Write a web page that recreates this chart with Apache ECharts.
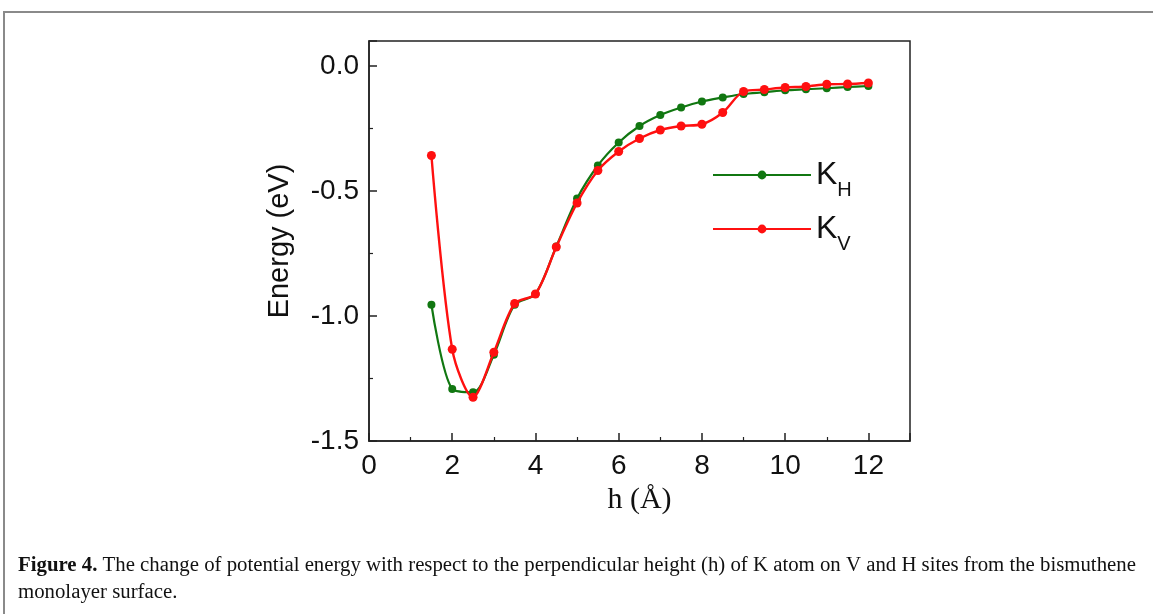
<!DOCTYPE html>
<html>
<head>
<meta charset="utf-8">
<script src="https://cdn.jsdelivr.net/npm/echarts@6/dist/echarts.min.js"></script>
<style>
html,body{margin:0;padding:0;background:#fff;}
#main{width:1153px;height:614px;}
</style>
</head>
<body>
<div id="main"></div>
<script>
// Data
var heights = [1.5, 2.0, 2.5, 3.0, 3.5, 4.0, 4.5, 5.0, 5.5, 6.0, 6.5, 7.0, 7.5, 8.0, 8.5, 9.0, 9.5, 10.0, 10.5, 11.0, 11.5, 12.0];
var energyKH = [-0.955, -1.292, -1.305, -1.155, -0.955, -0.912, -0.722, -0.530, -0.398, -0.306, -0.240, -0.196, -0.166, -0.142, -0.126, -0.112, -0.105, -0.097, -0.093, -0.089, -0.084, -0.080];
var energyKV = [-0.358, -1.133, -1.325, -1.145, -0.950, -0.912, -0.724, -0.548, -0.418, -0.342, -0.290, -0.256, -0.240, -0.233, -0.186, -0.102, -0.094, -0.086, -0.082, -0.073, -0.072, -0.068];
var seriesNames = ['K_H', 'K_V'];
var xTickLabels = ['0', '2', '4', '6', '8', '10', '12'];
var yTickLabels = ['-1.5', '-1.0', '-0.5', '0.0'];

function pairs(xs, ys) { return xs.map(function (x, i) { return [x, ys[i]]; }); }

var chart = echarts.init(document.getElementById('main'), null, {renderer: 'canvas'});
var sans = 'Liberation Sans, Arial, sans-serif';
var serif = 'Liberation Serif, serif';
var option = {
  animation: false,
  backgroundColor: '#fff',
  grid: {left: 369, top: 41, width: 541, height: 400, show: true, borderColor: '#222', borderWidth: 1.5, backgroundColor: 'transparent'},
  xAxis: {
    type: 'value', min: 0, max: 13, interval: 2,
    name: 'h (Å)', nameLocation: 'middle', nameGap: 44,
    nameTextStyle: {fontFamily: serif, fontSize: 30, color: '#111'},
    axisLine: {onZero: false, lineStyle: {color: '#222', width: 1.5}},
    axisTick: {inside: true, length: 8, lineStyle: {color: '#222', width: 1.5}},
    minorTick: {show: true, splitNumber: 2, length: 4, lineStyle: {color: '#222', width: 1.2}},
    splitLine: {show: false},
    axisLabel: {showMaxLabel: false, fontFamily: sans, fontSize: 28, color: '#111', margin: 11,
      formatter: function (v) { var s = String(v); return xTickLabels.indexOf(s) >= 0 ? s : ''; }}
  },
  yAxis: {
    type: 'value', min: -1.5, max: 0.1, interval: 0.5,
    name: 'Energy (eV)', nameLocation: 'middle', nameGap: 75, nameRotate: 90,
    nameTextStyle: {fontFamily: sans, fontSize: 29, color: '#111'},
    axisLine: {onZero: false, lineStyle: {color: '#222', width: 1.5}},
    axisTick: {inside: true, length: 8, lineStyle: {color: '#222', width: 1.5}},
    minorTick: {show: true, splitNumber: 2, length: 4, lineStyle: {color: '#222', width: 1.2}},
    splitLine: {show: false},
    axisLabel: {showMaxLabel: false, fontFamily: sans, fontSize: 28, color: '#111', margin: 10,
      formatter: function (v) { var s = v.toFixed(1); return yTickLabels.indexOf(s) >= 0 ? s : ''; }}
  },
  legend: {
    orient: 'vertical', left: 707, top: 145, itemWidth: 98, itemHeight: 11, itemGap: 4,
    data: seriesNames,
    formatter: function (n) { return n === 'K_H' ? '{k|K}{s|H}' : '{k|K}{s|V}'; },
    textStyle: {
      rich: {
        k: {fontFamily: sans, fontSize: 32, color: '#111', lineHeight: 40, padding: [0, 0, 0, 0]},
        s: {fontFamily: sans, fontSize: 20, color: '#111', lineHeight: 40, padding: [30, 0, 0, 0]}
      }
    }
  },
  series: [
    {name: seriesNames[0], type: 'line', smooth: 0.3, data: pairs(heights, energyKH),
     symbol: 'circle', symbolSize: 8, itemStyle: {color: '#117711'}, lineStyle: {color: '#117711', width: 2.2}, z: 2},
    {name: seriesNames[1], type: 'line', smooth: 0.3, data: pairs(heights, energyKV),
     symbol: 'circle', symbolSize: 9, itemStyle: {color: '#ff1010'}, lineStyle: {color: '#ff1010', width: 2.4}, z: 3}
  ],
  graphic: [
    {type: 'rect', shape: {x: 4, y: 12, width: 1200, height: 700}, style: {fill: 'none', stroke: '#8a8a8a', lineWidth: 2}, silent: true},
    {type: 'text', left: 18, top: 555, style: {
      text: '{b|Figure 4.} The change of potential energy with respect to the perpendicular height (h) of K atom on V and H sites from the bismuthene',
      fontFamily: serif, fontSize: 20.8, fill: '#111',
      rich: {b: {fontFamily: serif, fontSize: 20.8, fontWeight: 'bold', fill: '#111'}}
    }},
    {type: 'text', left: 18, top: 582, style: {
      text: 'monolayer surface.', fontFamily: serif, fontSize: 20.8, fill: '#111'
    }}
  ]
};
chart.setOption(option);
</script>
</body>
</html>
